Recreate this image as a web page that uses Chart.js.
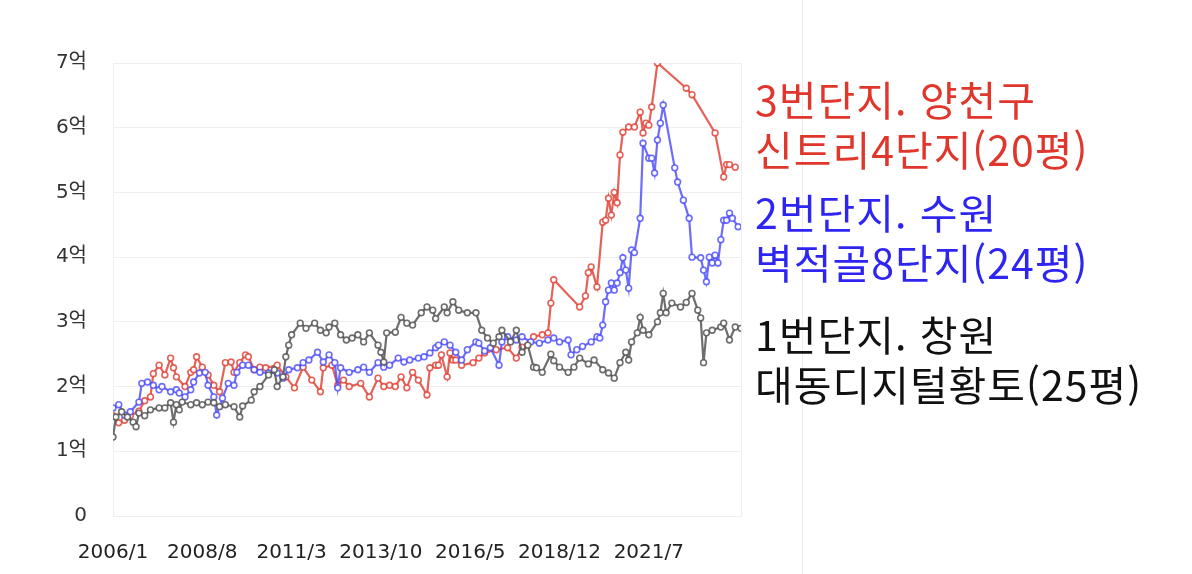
<!DOCTYPE html>
<html lang="ko">
<head>
<meta charset="utf-8">
<script src="https://cdn.jsdelivr.net/npm/chart.js@4.4.1/dist/chart.umd.min.js"></script>
<style>
  html, body { margin: 0; padding: 0; background: #fff; }
  body { width: 1192px; height: 574px; position: relative; overflow: hidden; }
  #wrap { position: absolute; left: 0; top: 0; width: 1192px; height: 574px; }
  #sep { position: absolute; left: 802px; top: 0; width: 1px; height: 574px; background: #ececec; }
  .lbl { position: absolute; left: 755px; font-family: "Noto Sans CJK KR", "Noto Sans", sans-serif;
         font-size: 41px; line-height: 50px; letter-spacing: 1px; white-space: nowrap; font-weight: 400; }
  #l3 { top: 73px; color: #e0362b; }
  #l2 { top: 186px; color: #2f25f2; }
  #l1 { top: 308px; color: #111111; }
</style>
</head>
<body>
<div id="sep"></div>
<div id="wrap"><canvas id="c"></canvas></div>
<div class="lbl" id="l3"></div>
<div class="lbl" id="l2"></div>
<div class="lbl" id="l1"></div>
<script>
// x = months since 2006/1, y = price in 억원
const xTickLabels = ['2006/1', '2008/8', '2011/3', '2013/10', '2016/5', '2018/12', '2021/7'];
const xTickMonths = [0, 31, 62, 93, 124, 155, 186];
const yTickLabels = ['0', '1억', '2억', '3억', '4억', '5억', '6억', '7억'];
const lastMonth = 218;

// 1번단지. 창원 대동디지털황토(25평)
const complex1Months = [0,1,3,5,7,8,9,11,13,16,18,20,21,22,23,24,27,29,31,33,35,37,39,42,44,45,48,49,51,54,56,57,59,60,61,62,65,67,70,72,74,75,77,79,81,83,85,87,89,92,93,94,95,98,100,102,104,107,109,111,112,115,116,118,120,123,126,128,130,132,134,135,138,140,142,144,146,147,149,152,153,155,158,160,162,165,167,170,172,174,176,178,179,180,182,183,184,186,189,190,191,192,194,197,199,201,203,204,205,206,208,211,212,214,216,218];
const complex1Prices = [1.22,1.53,1.61,1.53,1.45,1.38,1.59,1.55,1.64,1.67,1.67,1.75,1.45,1.72,1.64,1.76,1.72,1.75,1.72,1.76,1.75,1.69,1.72,1.69,1.53,1.70,1.79,1.92,2.00,2.18,2.26,2.00,2.15,2.46,2.64,2.80,2.98,2.90,2.98,2.87,2.83,2.92,2.98,2.80,2.72,2.75,2.80,2.69,2.83,2.64,2.53,2.38,2.83,2.84,3.07,2.98,2.95,3.14,3.23,3.18,3.05,3.23,3.14,3.31,3.18,3.14,3.14,2.87,2.75,2.67,2.77,2.87,2.69,2.87,2.53,2.64,2.30,2.29,2.22,2.50,2.40,2.30,2.22,2.30,2.44,2.35,2.41,2.26,2.21,2.13,2.37,2.53,2.41,2.69,2.83,3.07,2.87,2.80,3.00,3.14,3.44,3.14,3.29,3.23,3.30,3.44,3.18,3.06,2.37,2.83,2.87,2.92,2.98,2.72,2.92,2.90];

// 2번단지. 수원 벽적골8단지(24평)
const complex2Months = [0,2,4,6,9,10,12,14,16,17,20,22,23,25,27,28,30,32,33,35,36,38,40,42,43,45,47,49,51,54,57,59,61,64,66,68,71,73,75,77,78,79,82,85,87,89,92,94,96,99,101,103,106,108,110,112,113,115,117,119,121,123,126,127,129,131,134,135,137,140,142,145,148,151,153,155,158,159,161,163,166,168,169,170,171,172,173,174,175,176,177,178,179,180,181,183,184,186,187,188,189,190,191,195,196,198,200,201,204,205,206,207,208,209,210,211,212,213,214,215,217];
const complex2Prices = [1.67,1.72,1.56,1.61,1.76,2.05,2.07,2.02,1.95,2.00,1.92,1.95,1.90,1.84,1.95,2.07,2.21,2.22,2.02,1.84,1.56,1.82,2.05,2.02,2.22,2.33,2.33,2.26,2.22,2.21,2.21,2.13,2.26,2.29,2.37,2.41,2.53,2.38,2.49,2.37,1.98,2.29,2.22,2.26,2.30,2.22,2.37,2.30,2.33,2.44,2.38,2.41,2.44,2.46,2.52,2.60,2.64,2.69,2.64,2.53,2.41,2.57,2.69,2.67,2.55,2.60,2.33,2.69,2.77,2.72,2.77,2.69,2.67,2.72,2.75,2.69,2.72,2.49,2.57,2.62,2.69,2.77,2.75,2.95,3.31,3.49,3.60,3.49,3.60,3.76,3.99,3.80,3.52,4.11,4.07,4.60,5.76,5.53,5.53,5.30,5.81,6.07,6.35,5.38,5.16,4.88,4.60,4.00,3.99,3.80,3.62,4.00,3.91,4.03,3.91,4.27,4.57,4.57,4.68,4.60,4.47];

// 3번단지. 양천구 신트리4단지(20평)
const complex3Months = [0,2,4,6,9,11,13,14,16,18,20,21,22,25,27,28,29,31,33,35,37,39,41,42,44,46,47,49,51,53,57,60,63,66,69,72,73,76,78,80,82,86,89,92,94,96,98,100,102,104,106,109,110,112,113,114,116,117,118,119,121,125,127,129,133,137,140,142,146,149,151,152,153,162,164,165,166,168,170,171,172,173,174,175,176,177,179,181,183,184,185,186,187,189,199,201,209,212,213,214,216];
const complex3Prices = [1.55,1.44,1.48,1.55,1.62,1.78,1.84,2.20,2.33,2.18,2.44,2.29,2.15,2.00,2.22,2.26,2.46,2.30,2.18,2.02,1.92,2.37,2.38,2.22,2.37,2.49,2.46,2.26,2.30,2.29,2.33,2.15,1.98,2.30,2.10,1.92,2.29,2.33,2.02,2.10,2.00,2.05,1.84,2.13,2.00,2.02,2.00,2.15,1.98,2.22,2.10,1.87,2.29,2.33,2.33,2.49,2.15,2.52,2.41,2.41,2.33,2.37,2.44,2.52,2.57,2.60,2.44,2.61,2.77,2.80,2.83,3.29,3.65,3.23,3.40,3.76,3.85,3.54,4.54,4.57,4.91,4.65,5.00,4.84,5.58,5.93,6.01,6.01,6.24,5.92,6.07,6.04,6.32,7.00,6.61,6.51,5.92,5.24,5.43,5.43,5.39];

const seriesNames = [
  ['1번단지. 창원', '대동디지털황토(25평)'],
  ['2번단지. 수원', '벽적골8단지(24평)'],
  ['3번단지. 양천구', '신트리4단지(20평)']
];
const seriesColors = ['rgba(85,85,85,0.85)', 'rgba(72,72,250,0.8)', 'rgba(225,62,50,0.82)'];

['l1', 'l2', 'l3'].forEach((id, i) => {
  document.getElementById(id).innerHTML = seriesNames[i].join('<br>');
});

const toPoints = (ms, vs) => ms.map((m, i) => ({ x: m, y: vs[i] }));
const seriesData = [
  toPoints(complex1Months, complex1Prices),
  toPoints(complex2Months, complex2Prices),
  toPoints(complex3Months, complex3Prices)
];

const datasets = seriesData.map((d, i) => ({
  label: seriesNames[i].join(' '),
  data: d,
  borderColor: seriesColors[i],
  borderWidth: 2.2,
  pointRadius: 2.9,
  pointBorderWidth: 1.6,
  pointBackgroundColor: '#ffffff',
  pointBorderColor: seriesColors[i],
  tension: 0,
  fill: false
}));

const gridColor = '#efefef';
const tickFont = '"DejaVu Sans", "Noto Sans CJK KR", sans-serif';

new Chart(document.getElementById('c'), {
  type: 'line',
  data: { datasets },
  options: {
    responsive: true,
    maintainAspectRatio: false,
    animation: false,
    events: [],
    layout: { padding: { top: 63, right: 0, bottom: 0, left: 0 } },
    plugins: { legend: { display: false }, tooltip: { enabled: false } },
    scales: {
      x: {
        type: 'linear',
        position: 'bottom',
        min: 0,
        max: lastMonth,
        grid: { display: false, drawTicks: false },
        border: { display: false },
        afterBuildTicks: (axis) => { axis.ticks = xTickMonths.map(v => ({ value: v })); },
        afterFit: (axis) => { axis.height = 58; },
        ticks: {
          autoSkip: false,
          maxRotation: 0,
          minRotation: 0,
          padding: 25,
          color: '#222',
          font: { family: tickFont, size: 20 },
          callback: (v) => xTickLabels[xTickMonths.indexOf(v)]
        }
      },
      y: {
        type: 'linear',
        position: 'left',
        min: 0,
        max: 7,
        afterFit: (axis) => { axis.width = 113; },
        ticks: {
          stepSize: 1,
          padding: 26,
          color: '#333',
          font: { family: tickFont, size: 20 },
          callback: (v) => yTickLabels[v]
        },
        grid: { color: gridColor, drawTicks: false, lineWidth: 1 },
        border: { display: true, color: gridColor, width: 1 }
      },
      yRight: {
        type: 'linear',
        position: 'right',
        min: 0,
        max: 7,
        ticks: { display: false },
        grid: { display: false, drawTicks: false },
        border: { display: true, color: gridColor, width: 1 },
        afterFit: (axis) => { axis.width = 1192 - 741; }
      }
    }
  }
});
</script>
</body>
</html>
